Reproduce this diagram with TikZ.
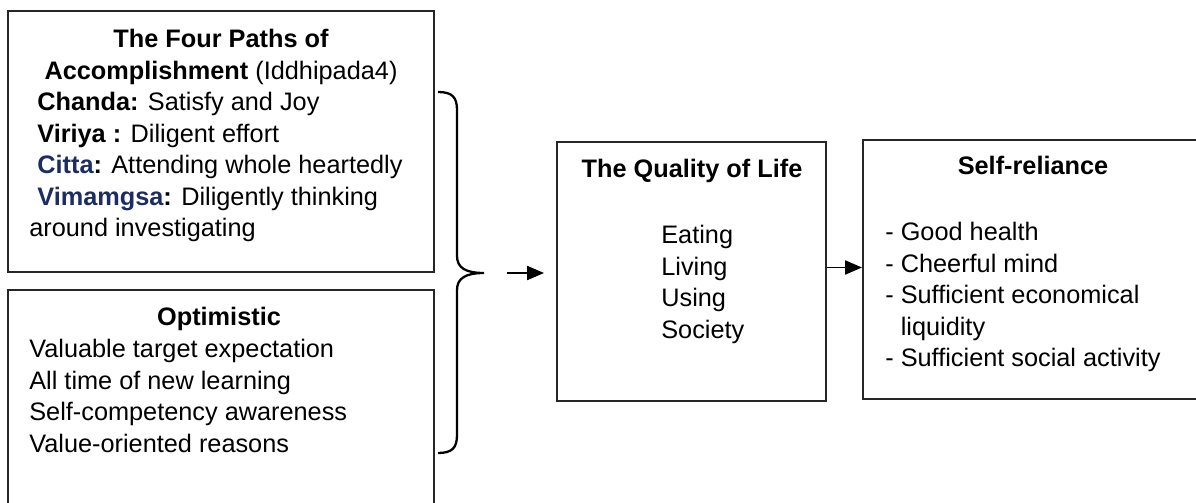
\documentclass[tikz,border=0pt]{standalone}
\usepackage{fontspec}
\setmainfont{Liberation Sans}
\usepackage{tikz}
\usetikzlibrary{positioning,arrows.meta}
\definecolor{pathblue}{RGB}{28,45,100}

\begin{document}
\begin{tikzpicture}[x=0.02cm,y=-0.02cm,
  box/.style={draw=black!85,line width=1.1pt,rectangle,inner sep=0pt},
  txt/.style={inner sep=0pt,font=\fontsize{14.4pt}{18pt}\selectfont},
  flow/.style={line width=1.1pt,-{Triangle[length=0.34cm,width=0.28cm]}}]
\clip (0,0) rectangle (1196,503);
% boxes
\node[box,minimum width=8.52cm,minimum height=5.22cm] (paths) at (221,141.5) {};
\node[box,minimum width=8.52cm,minimum height=4.5cm] (optim) at (221,402.5) {};
\node[box,minimum width=5.38cm,minimum height=5.18cm] (quality) at (691.5,271.5) {};
\node[box,minimum width=6.94cm,minimum height=5.18cm] (reliance) at (1036.5,269.5) {};
% texts
\node[txt,anchor=north,align=center] (pathsTitle) at (221,28.7) {\textbf{The Four Paths of}\\\textbf{Accomplishment} (Iddhipada4)};
\node[txt,anchor=north west,align=left] (pathsList) at (29,91.7) {\hspace*{0.16cm}\textbf{Chanda:} Satisfy and Joy\\
  \hspace*{0.16cm}\textbf{Viriya :} Diligent effort\\
  \hspace*{0.16cm}\textbf{\textcolor{pathblue}{Citta}:} Attending whole heartedly\\
  \hspace*{0.16cm}\textbf{\textcolor{pathblue}{Vimamgsa}:} Diligently thinking\\
  around investigating};
\node[txt,anchor=north] (optimTitle) at (219,306.7) {\textbf{Optimistic}};
\node[txt,anchor=north west,align=left] (optimList) at (29,338.7) {Valuable target expectation\\All time of new learning\\Self-competency awareness\\Value-oriented reasons};
\node[txt,anchor=north] (qualityTitle) at (692,158.7) {\textbf{The Quality of Life}};
\node[txt,anchor=north west,align=left] (qualityList) at (661,224.7) {Eating\\Living\\Using\\Society};
\node[txt,anchor=north] (relianceTitle) at (1033,155.7) {\textbf{Self-reliance}};
\node[txt,anchor=north west,align=left] (relianceList) at (885,221.7) {- Good health\\- Cheerful mind\\- Sufficient economical\\\hphantom{-}\ liquidity\\- Sufficient social activity};
% brace
\coordinate (braceTip) at (484,273);
\draw[line width=1.3pt] (438,92) .. controls (452,92) and (457,97) .. (457,110) -- (457,256)
  .. controls (457,268) and (466,273) .. (braceTip)
  .. controls (466,273) and (457,278) .. (457,290) -- (457,435)
  .. controls (457,448) and (452,453) .. (438,453);
% arrows
\draw[flow,shorten <=0.46cm,shorten >=0.24cm] (braceTip) -- (quality.west |- braceTip);
\draw[flow] ([yshift=0.08cm]quality.east) -- ([yshift=0.08cm]quality.east -| reliance.west);
\end{tikzpicture}
\end{document}
